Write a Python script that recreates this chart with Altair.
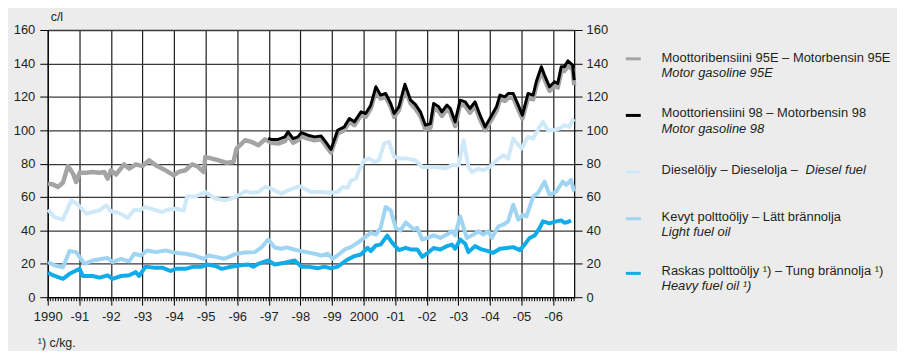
import altair as alt
import pandas as pd

# ---------------- data ----------------
t_95 = [1990.01, 1990.17, 1990.32, 1990.48, 1990.64, 1990.80, 1990.90, 1991.01, 1991.22, 1991.42,
        1991.64, 1991.79, 1991.90, 1992.00, 1992.16, 1992.42, 1992.58, 1992.79, 1993.00, 1993.21,
        1993.42, 1993.68, 1993.99, 1994.15, 1994.36, 1994.57, 1994.73, 1994.94, 1994.99, 1995.20,
        1995.41, 1995.67, 1995.88, 1995.98, 1996.25, 1996.46, 1996.67, 1996.88, 1997.08, 1997.30,
        1997.51, 1997.61, 1997.77, 1997.92, 1998.03, 1998.24, 1998.45, 1998.66, 1998.76, 1998.97,
        1999.18, 1999.39, 1999.55, 1999.71, 1999.92, 2000.07, 2000.23, 2000.39, 2000.54, 2000.70,
        2000.86, 2000.97, 2001.12, 2001.31, 2001.49, 2001.64, 2001.80, 2001.96, 2002.12, 2002.22,
        2002.38, 2002.48, 2002.64, 2002.75, 2002.90, 2003.06, 2003.22, 2003.37, 2003.53, 2003.69,
        2003.85, 2004.06, 2004.21, 2004.32, 2004.48, 2004.58, 2004.74, 2004.90, 2005.03, 2005.21,
        2005.37, 2005.47, 2005.63, 2005.73, 2005.89, 2006.05, 2006.15, 2006.26, 2006.36, 2006.47,
        2006.62, 2006.67]
v_95 = [68, 67.5, 66, 68.5, 78.5, 74, 69, 74.5, 74.5, 75,
        74.5, 75, 71, 76, 73.5, 79.5, 77, 79.5, 78.5, 82,
        79, 76.5, 73, 75, 76, 79.5, 78.5, 75, 84, 83,
        82, 80.5, 81, 89, 94, 93, 91, 94.5, 92.5, 92,
        93.5, 97, 92.5, 94, 96.5, 95, 94, 94.5, 92, 86.5,
        98, 100, 105, 103, 109, 108, 113, 123.5, 119, 120,
        114, 108, 112, 125, 116, 113, 108.5, 100.5, 101.5, 113,
        111.5, 108.5, 112.5, 110.5, 102.5, 115.5, 114.5, 110.5, 114.5, 106.5,
        100, 106.5, 111.5, 118.5, 117.5, 119.5, 119.5, 112.5, 107, 119.5,
        118.5, 126.5, 135, 130.5, 123.5, 126.5, 125.5, 135, 135.5, 138.5,
        136.5, 127]

t_98 = [1996.98, 1997.08, 1997.30, 1997.51, 1997.61, 1997.77, 1997.92, 1998.03, 1998.24, 1998.45,
        1998.66, 1998.76, 1998.97, 1999.18, 1999.39, 1999.55, 1999.71, 1999.92, 2000.07, 2000.23,
        2000.39, 2000.54, 2000.70, 2000.86, 2000.97, 2001.12, 2001.31, 2001.49, 2001.64, 2001.80,
        2001.96, 2002.12, 2002.22, 2002.38, 2002.48, 2002.64, 2002.75, 2002.90, 2003.06, 2003.22,
        2003.37, 2003.53, 2003.69, 2003.85, 2004.06, 2004.21, 2004.32, 2004.48, 2004.58, 2004.74,
        2004.90, 2005.03, 2005.21, 2005.37, 2005.47, 2005.63, 2005.73, 2005.89, 2006.05, 2006.15,
        2006.26, 2006.36, 2006.47, 2006.62, 2006.67]
v_98 = [95, 94.5, 94.5, 96, 99, 95, 96, 98.5, 97, 96,
        96.5, 94, 88.5, 100, 102, 107, 105, 111, 110, 115,
        126, 121, 122, 116, 110, 114, 127.5, 118, 115.5, 111,
        103, 104, 116, 114, 111, 115, 113, 105, 118, 117,
        113, 117, 109, 102, 109, 114, 121, 120, 122, 122,
        115, 109, 122, 121, 129, 138, 133, 126, 129, 128,
        138, 138, 141.5, 139, 130]

t_diesel = [1990.01, 1990.22, 1990.48, 1990.75, 1990.95, 1991.22, 1991.42, 1991.64, 1991.85, 1992.00,
            1992.26, 1992.53, 1992.74, 1992.89, 1993.10, 1993.36, 1993.63, 1993.78, 1994.05, 1994.31,
            1994.41, 1994.68, 1994.99, 1995.31, 1995.62, 1995.83, 1996.04, 1996.25, 1996.46, 1996.67,
            1996.88, 1997.08, 1997.40, 1997.61, 1997.98, 1998.13, 1998.34, 1998.66, 1998.97, 1999.18,
            1999.34, 1999.50, 1999.60, 1999.76, 1999.86, 2000.02, 2000.18, 2000.34, 2000.49, 2000.65,
            2000.81, 2000.97, 2001.17, 2001.38, 2001.64, 2001.86, 2002.12, 2002.33, 2002.59, 2002.80,
            2003.01, 2003.17, 2003.32, 2003.43, 2003.64, 2003.79, 2004.00, 2004.21, 2004.42, 2004.58,
            2004.74, 2005.00, 2005.21, 2005.37, 2005.58, 2005.68, 2005.84, 2006.00, 2006.20, 2006.36,
            2006.52, 2006.62, 2006.67]
v_diesel = [52.4, 48, 46.5, 58, 55.5, 50, 51, 52, 55, 51.5,
            50.5, 47.5, 52.4, 52, 54, 52.4, 51, 52.4, 53, 52,
            60.3, 60.3, 63, 59, 58, 59, 61, 63.5, 62.5, 63,
            66, 65, 62, 64, 66.5, 65, 63, 63, 62.5, 63,
            66, 65.5, 70, 71, 76, 82, 83, 81, 82, 92,
            93, 84, 83, 83, 82, 78, 78, 78, 77, 79,
            79, 94, 78, 75, 77, 76, 78, 82, 85, 83,
            95, 89, 96, 95, 102, 105, 100, 100, 101, 103,
            102, 106, 105]

t_light = [1990.01, 1990.22, 1990.48, 1990.69, 1990.90, 1991.16, 1991.42, 1991.74, 1991.90, 1992.05,
           1992.32, 1992.58, 1992.74, 1992.95, 1993.15, 1993.42, 1993.73, 1993.94, 1994.10, 1994.36,
           1994.62, 1994.94, 1995.09, 1995.36, 1995.57, 1995.72, 1995.93, 1996.25, 1996.56, 1996.77,
           1996.98, 1997.19, 1997.40, 1997.56, 1997.71, 1997.92, 1998.19, 1998.45, 1998.66, 1998.87,
           1999.03, 1999.24, 1999.44, 1999.60, 1999.81, 2000.02, 2000.23, 2000.39, 2000.54, 2000.70,
           2000.86, 2001.02, 2001.17, 2001.34, 2001.59, 2001.70, 2001.86, 2002.01, 2002.22, 2002.43,
           2002.64, 2002.80, 2002.90, 2003.06, 2003.27, 2003.48, 2003.64, 2003.79, 2003.95, 2004.06,
           2004.27, 2004.42, 2004.58, 2004.74, 2004.90, 2005.05, 2005.16, 2005.37, 2005.52, 2005.73,
           2005.89, 2006.10, 2006.31, 2006.42, 2006.57, 2006.67]
v_light = [21, 19, 17.9, 27.6, 27, 20, 22, 23, 23.5, 21,
           23, 21.5, 26, 25, 28, 27, 28, 27, 26.5, 26,
           25, 23, 25, 24, 23, 24, 25.8, 26.8, 27, 29.8,
           34.5, 29.8, 29, 29.8, 29, 28, 27, 26, 25, 26,
           23, 26, 29, 30, 32.5, 35.5, 38.5, 37.5, 41.5, 54,
           52, 41.5, 40, 44.8, 40.6, 41.5, 34.5, 35.5, 37, 35.5,
           37.5, 39.5, 37, 48.4, 35.5, 37.5, 39.5, 37.5, 39.5, 35.5,
           42.4, 43.4, 45.4, 55.4, 46.4, 49.4, 48.4, 60.3, 62.3, 69.2,
           61.3, 63.3, 69.2, 67.2, 70.2, 63.3]

t_heavy = [1990.01, 1990.22, 1990.48, 1990.69, 1990.90, 1991.01, 1991.11, 1991.42, 1991.64, 1991.90,
           1992.05, 1992.32, 1992.58, 1992.79, 1992.89, 1993.10, 1993.36, 1993.63, 1993.89, 1994.05,
           1994.36, 1994.62, 1994.88, 1995.04, 1995.31, 1995.51, 1995.72, 1996.04, 1996.35, 1996.51,
           1996.67, 1996.98, 1997.19, 1997.51, 1997.82, 1998.03, 1998.24, 1998.55, 1998.76, 1998.97,
           1999.18, 1999.50, 1999.71, 1999.92, 2000.13, 2000.23, 2000.39, 2000.54, 2000.75, 2000.91,
           2001.12, 2001.33, 2001.49, 2001.70, 2001.86, 2002.01, 2002.22, 2002.43, 2002.64, 2002.80,
           2002.90, 2003.06, 2003.22, 2003.32, 2003.53, 2003.74, 2003.95, 2004.11, 2004.32, 2004.53,
           2004.74, 2004.95, 2005.10, 2005.26, 2005.42, 2005.58, 2005.68, 2005.89, 2006.10, 2006.26,
           2006.36, 2006.47, 2006.57]
v_heavy = [14.7, 12.7, 11, 14, 16, 17, 12.7, 12.7, 11.7, 13.1,
           11, 12.7, 13.1, 15, 12.7, 18.3, 17.7, 17.7, 15.7, 17,
           17, 18.3, 18.3, 19.6, 18.7, 17, 17.9, 19, 19.6, 18.3,
           20, 22, 19.6, 20.6, 22, 18.3, 18.3, 17.3, 18.3, 17.3,
           18.3, 22.6, 24.6, 25.6, 29.6, 27.6, 31, 31.5, 36.9, 32.5,
           28.2, 29.6, 28.6, 28.6, 24.2, 26.2, 29.5, 28.6, 30.6, 31.5,
           29, 34.5, 32, 27, 30.6, 28.6, 27.6, 26.6, 29, 29.5,
           30, 28.2, 31.5, 35.5, 37, 41.5, 45.4, 44.2, 45.4, 46,
           44.6, 45, 46]

year_ticks = list(range(1990, 2007))
y_ticks = [0, 20, 40, 60, 80, 100, 120, 140, 160]
month_ticks = [1990 + m / 12 for m in range(0, 201)]

series_names = ["95E", "98", "diesel", "light", "heavy"]
series_data = [(t_95, v_95), (t_98, v_98), (t_diesel, v_diesel), (t_light, v_light), (t_heavy, v_heavy)]

rows = []
for name, (ts, vs) in zip(series_names, series_data):
    for t, v in zip(ts, vs):
        rows.append({"series": name, "t": t, "v": v})
df = pd.DataFrame(rows)
months_df = pd.DataFrame({"t": month_ticks})
dummy = pd.DataFrame({"a": [0]})

# ---------------- styling ----------------
FONT = "Liberation Sans"
TXT = "#231f20"
LEG = 13
AX = 13
colors = {"95E": "#a4a4a4", "98": "#000000", "diesel": "#cfe9f9", "light": "#9fd5f3", "heavy": "#10acea"}
widths = {"95E": 4.5, "98": 3, "diesel": 4, "light": 4, "heavy": 4}

X_DOMAIN = [1990, 2006.67]
x_axis = alt.Axis(values=year_ticks, title=None, grid=True, gridColor="#1e1e1e", gridWidth=1.2,
                  tickSize=8, tickColor="#000", domainColor="#000", domainWidth=1.2,
                  labelFont=FONT, labelFontSize=AX, labelColor=TXT, labelPadding=5,
                  labelOverlap=False, labelFlush=False, labelBound=False,
                  labelExpr="(datum.value == 1990 || datum.value == 2000) ? toString(datum.value) : '-' + substring(toString(datum.value), 2, 4)")
y_left = alt.Axis(values=y_ticks, title=None, grid=True, gridColor="#3a3a3a", gridWidth=1.3,
                  tickSize=8, tickColor="#000", domainColor="#000", domainWidth=1.2,
                  labelOverlap=False, labelFlush=False,
                  labelFont=FONT, labelFontSize=AX, labelColor=TXT, labelPadding=5, orient="left")
y_right = alt.Axis(values=y_ticks, title=None, grid=False,
                   tickSize=8, tickColor="#000", domainColor="#000", domainWidth=1.2,
                   labelOverlap=False, labelFlush=False,
                   labelFont=FONT, labelFontSize=AX, labelColor=TXT, labelPadding=4, orient="right")

xs = alt.Scale(domain=X_DOMAIN, nice=False, zero=False)
ys = alt.Scale(domain=[0, 160], nice=False)

layers = []
for i, name in enumerate(series_names):
    if i == 0:
        yax = y_left
    elif i == 1:
        yax = y_right
    else:
        yax = None
    layers.append(
        alt.Chart(df).transform_filter(alt.datum.series == name)
        .mark_line(color=colors[name], strokeWidth=widths[name], strokeJoin="round")
        .encode(x=alt.X("t:Q", scale=xs, axis=x_axis), y=alt.Y("v:Q", scale=ys, axis=yax),
                order="t:Q")
    )

# monthly minor ticks under the time axis
minor = alt.Chart(months_df).mark_rule(color="#000", strokeWidth=1).encode(
    x=alt.X("t:Q", scale=xs, axis=x_axis), y=alt.value(269), y2=alt.value(273))


def txt(s, x, y, italic=False, size=LEG):
    return alt.Chart(dummy).mark_text(text=s, align="left", baseline="middle", font=FONT,
                                      fontSize=size, fontStyle="italic" if italic else "normal",
                                      color=TXT).encode(x=alt.value(x), y=alt.value(y))


def sym(color, y):
    return alt.Chart(dummy).mark_rule(color=color, strokeWidth=3).encode(
        x=alt.value(582), x2=alt.value(597), y=alt.value(y))


deco = [
    txt("c/l", 3, -13, size=12.5),
    txt("¹) c/kg.", -10, 315, size=12.5),
    sym(colors["95E"], 29), txt("Moottoribensiini 95E – Motorbensin 95E", 618, 28),
    txt("Motor gasoline 95E", 618, 43, italic=True),
    sym(colors["98"], 86), txt("Moottoriensiini 98 – Motorbensin 98", 618, 84),
    txt("Motor gasoline 98", 618, 100, italic=True),
    sym(colors["diesel"], 143), txt("Dieselöljy – Dieselolja –", 618, 141),
    txt("Diesel fuel", 763, 141, italic=True),
    sym(colors["light"], 190), txt("Kevyt polttoöljy – Lätt brännolja", 618, 188),
    txt("Light fuel oil", 618, 203, italic=True),
    sym(colors["heavy"], 245), txt("Raskas polttoöljy ¹) – Tung brännolja ¹)", 618, 243),
    txt("Heavy fuel oil ¹)", 618, 258, italic=True),
]

chart = alt.layer(minor, *layers, *deco).resolve_axis(y="independent").properties(
    width=530, height=269,
    autosize=alt.AutoSizeParams(type="none"),
    padding={"left": 40, "top": 21, "right": 325, "bottom": 53},
    background="#ececec",
).configure_view(fill="white", stroke=None)

chart.save("out.html", embed_options={"renderer": "svg", "actions": False})
